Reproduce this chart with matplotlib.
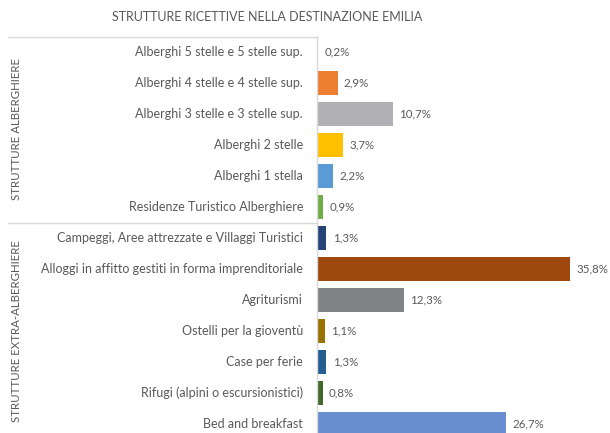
import matplotlib
matplotlib.use("Agg")
import matplotlib.pyplot as plt
from matplotlib.lines import Line2D

plt.rcParams['font.family'] = ['Lato', 'DejaVu Sans']

categories = [
    "Alberghi 5 stelle e 5 stelle sup.",
    "Alberghi 4 stelle e 4 stelle sup.",
    "Alberghi 3 stelle e 3 stelle sup.",
    "Alberghi 2 stelle",
    "Alberghi 1 stella",
    "Residenze Turistico Alberghiere",
    "Campeggi, Aree attrezzate e Villaggi Turistici",
    "Alloggi in affitto gestiti in forma imprenditoriale",
    "Agriturismi",
    "Ostelli per la gioventù",
    "Case per ferie",
    "Rifugi (alpini o escursionistici)",
    "Bed and breakfast",
]
values = [0.2, 2.9, 10.7, 3.7, 2.2, 0.9, 1.3, 35.8, 12.3, 1.1, 1.3, 0.8, 26.7]
colors = ["#4472C4", "#ED7D31", "#B0B0B4", "#FFC000", "#5B9BD5", "#70AD47",
          "#264478", "#9E480E", "#808285", "#997300", "#255E91", "#43682B", "#698ED0"]
groups = ["STRUTTURE ALBERGHIERE", "STRUTTURE EXTRA-ALBERGHIERE"]
group_sizes = [6, 7]

W, H = 610, 433
fig = plt.figure(figsize=(W / 100, H / 100), dpi=100)
# plot area in pixels: left 317, right 600, top 36.5, bottom 439.5 (last bar runs off the edge)
top, bot = 36.5, 439.5
ax = fig.add_axes([317 / W, (H - bot) / H, (600 - 317) / W, (bot - top) / H])

ypos = list(range(len(values)))
ax.barh(ypos, values, height=0.77, color=colors)
ax.set_ylim(len(values) - 0.5, -0.5)
ax.set_xlim(0, 40)
ax.set_xticks([])
ax.set_yticks([])
for s in ["top", "right", "bottom"]:
    ax.spines[s].set_visible(False)
ax.spines["left"].set_color("#d9d9d9")
ax.spines["left"].set_linewidth(1)

txt = "#595959"
for y, v in zip(ypos, values):
    ax.text(v + 0.9, y, f"{v:.1f}%".replace(".", ","), va="center", ha="left",
            fontsize=8.3, color=txt)
    ax.annotate(categories[y], xy=(0, y), xycoords="data", xytext=(-10, 0),
                textcoords="offset points", ha="right", va="center",
                fontsize=9, color=txt, annotation_clip=False)

# group separators and rotated group labels
row_h = (bot - top) / len(values)
start = 0
for g, n in zip(groups, group_sizes):
    yp = top + start * row_h
    fig.add_artist(Line2D([8 / W, 317 / W], [1 - yp / H, 1 - yp / H],
                          color="#d9d9d9", lw=1))
    mid = top + (start + n / 2) * row_h
    fig.text(17 / W, 1 - mid / H, g, rotation=90, ha="center", va="center",
             fontsize=8.3, color=txt)
    start += n

fig.text(267 / W, 1 - 17 / H, "STRUTTURE RICETTIVE NELLA DESTINAZIONE EMILIA",
         ha="center", va="center", fontsize=9, color=txt)

fig.savefig("out.png", dpi=100)
